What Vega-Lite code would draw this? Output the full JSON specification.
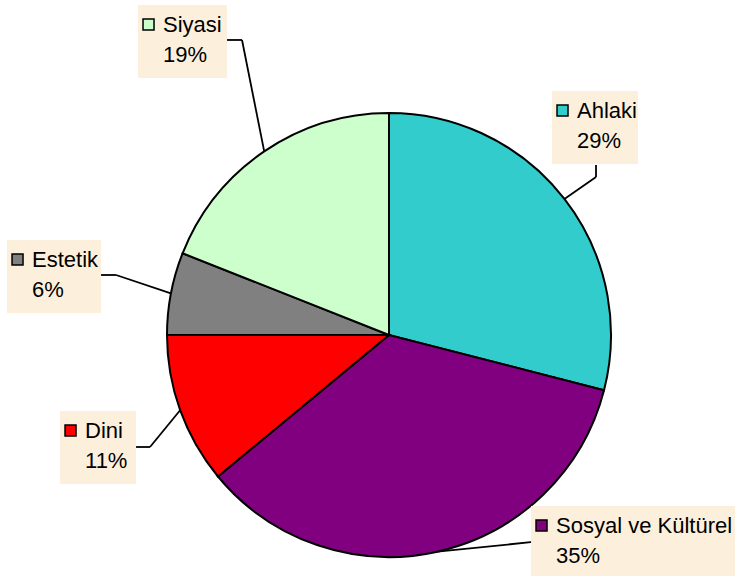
{
  "$schema": "https://vega.github.io/schema/vega-lite/v6.json",
  "width": 692,
  "height": 482,
  "autosize": {"type": "none"},
  "padding": {"left": 43, "top": 94, "right": 0, "bottom": 0},
  "background": "white",
  "config": {"view": {"stroke": null}},
  "params": [
    {"name": "lab", "value": {
      "Ahlaki": {"lx": 12.6, "ly": -80.9, "w": 61, "bx": 19, "by": 59, "cx": 19, "cy": 47},
      "Sosyal ve Kültürel": {"lx": 118.6, "ly": -18.7, "w": 185, "bx": -23, "by": 9, "cx": -23, "cy": 9},
      "Dini": {"lx": -95.1, "ly": 27.8, "w": 51, "bx": 65, "by": 9, "cx": 51, "cy": 9},
      "Estetik": {"lx": -138.9, "ly": -26.4, "w": 69, "bx": 84, "by": 8, "cx": 69, "cy": 8},
      "Siyasi": {"lx": -101.2, "ly": -119.4, "w": 64, "bx": 79, "by": 8, "cx": 64, "cy": 8}
    }}
  ],
  "data": {"values": [
    {"category": "Ahlaki", "share": 0.29},
    {"category": "Sosyal ve Kültürel", "share": 0.35},
    {"category": "Dini", "share": 0.11},
    {"category": "Estetik", "share": 0.06},
    {"category": "Siyasi", "share": 0.19}
  ]},
  "transform": [
    {"window": [{"op": "row_number", "as": "idx"}]},
    {"stack": "share", "groupby": [], "sort": [{"field": "idx", "order": "ascending"}], "as": ["v0", "v1"]}
  ],
  "layer": [
    {
      "mark": {"type": "arc", "outerRadius": 222, "stroke": "black", "strokeWidth": 2},
      "encoding": {
        "theta": {"field": "v0", "type": "quantitative", "scale": {"domain": [0, 1]}},
        "theta2": {"field": "v1"},
        "color": {
          "field": "category", "type": "nominal", "legend": null,
          "scale": {
            "domain": ["Ahlaki", "Sosyal ve Kültürel", "Dini", "Estetik", "Siyasi"],
            "range": ["#33CCCC", "#800080", "#FF0000", "#808080", "#CCFFCC"]
          }
        }
      }
    },
    {
      "mark": {"type": "rule", "stroke": "black", "strokeWidth": 1.8},
      "encoding": {
        "x": {"value": {"expr": "width/2+222*sin(PI*(datum.v0+datum.v1))"}},
        "y": {"value": {"expr": "height/2-222*cos(PI*(datum.v0+datum.v1))"}},
        "x2": {"value": {"expr": "width/2+222*sin(PI*(datum.v0+datum.v1))+lab[datum.category].lx+lab[datum.category].bx"}},
        "y2": {"value": {"expr": "height/2-222*cos(PI*(datum.v0+datum.v1))+lab[datum.category].ly+lab[datum.category].by"}}
      }
    },
    {
      "mark": {"type": "rule", "stroke": "black", "strokeWidth": 1.8},
      "encoding": {
        "x": {"value": {"expr": "width/2+222*sin(PI*(datum.v0+datum.v1))+lab[datum.category].lx+lab[datum.category].bx"}},
        "y": {"value": {"expr": "height/2-222*cos(PI*(datum.v0+datum.v1))+lab[datum.category].ly+lab[datum.category].by"}},
        "x2": {"value": {"expr": "width/2+222*sin(PI*(datum.v0+datum.v1))+lab[datum.category].lx+lab[datum.category].cx"}},
        "y2": {"value": {"expr": "height/2-222*cos(PI*(datum.v0+datum.v1))+lab[datum.category].ly+lab[datum.category].cy"}}
      }
    },
    {
      "mark": {"type": "rect", "fill": "#FCF0DC"},
      "encoding": {
        "x": {"value": {"expr": "width/2+222*sin(PI*(datum.v0+datum.v1))+lab[datum.category].lx-25"}},
        "x2": {"value": {"expr": "width/2+222*sin(PI*(datum.v0+datum.v1))+lab[datum.category].lx+lab[datum.category].w"}},
        "y": {"value": {"expr": "height/2-222*cos(PI*(datum.v0+datum.v1))+lab[datum.category].ly-27"}},
        "y2": {"value": {"expr": "height/2-222*cos(PI*(datum.v0+datum.v1))+lab[datum.category].ly+46"}}
      }
    },
    {
      "mark": {"type": "rect", "stroke": "black", "strokeWidth": 1.5},
      "encoding": {
        "x": {"value": {"expr": "width/2+222*sin(PI*(datum.v0+datum.v1))+lab[datum.category].lx-20"}},
        "x2": {"value": {"expr": "width/2+222*sin(PI*(datum.v0+datum.v1))+lab[datum.category].lx-9"}},
        "y": {"value": {"expr": "height/2-222*cos(PI*(datum.v0+datum.v1))+lab[datum.category].ly-13"}},
        "y2": {"value": {"expr": "height/2-222*cos(PI*(datum.v0+datum.v1))+lab[datum.category].ly-2"}},
        "fill": {
          "field": "category", "type": "nominal", "legend": null,
          "scale": {
            "domain": ["Ahlaki", "Sosyal ve Kültürel", "Dini", "Estetik", "Siyasi"],
            "range": ["#33CCCC", "#800080", "#FF0000", "#808080", "#CCFFCC"]
          }
        }
      }
    },
    {
      "mark": {"type": "text", "align": "left", "baseline": "alphabetic", "font": "Liberation Sans", "fontSize": 22, "fill": "black"},
      "encoding": {
        "x": {"value": {"expr": "width/2+222*sin(PI*(datum.v0+datum.v1))+lab[datum.category].lx"}},
        "y": {"value": {"expr": "height/2-222*cos(PI*(datum.v0+datum.v1))+lab[datum.category].ly"}},
        "text": {"field": "category", "type": "nominal"}
      }
    },
    {
      "mark": {"type": "text", "align": "left", "baseline": "alphabetic", "font": "Liberation Sans", "fontSize": 22, "fill": "black"},
      "encoding": {
        "x": {"value": {"expr": "width/2+222*sin(PI*(datum.v0+datum.v1))+lab[datum.category].lx"}},
        "y": {"value": {"expr": "height/2-222*cos(PI*(datum.v0+datum.v1))+lab[datum.category].ly+30"}},
        "text": {"field": "share", "type": "quantitative", "format": ".0%"}
      }
    }
  ]
}
